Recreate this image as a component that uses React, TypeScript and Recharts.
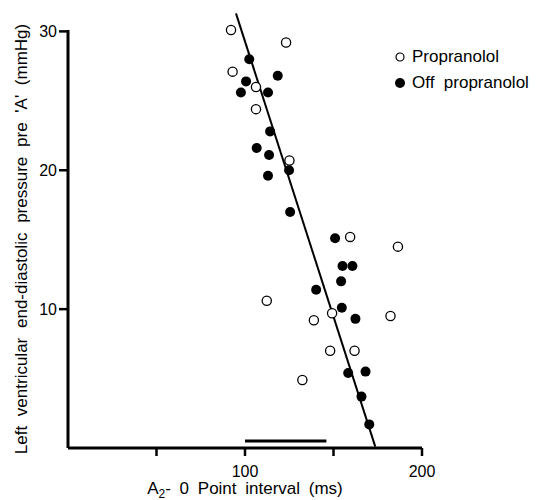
import { ScatterChart, Scatter, XAxis, YAxis, ReferenceLine } from "recharts";

const FONT = '"Liberation Sans", Arial, sans-serif';

// Propranolol (open circles)
const openX = [92.1, 123.2, 93.0, 106.2, 106.2, 125.1, 159.4, 186.4, 149.2, 182.2, 138.9, 148.1, 161.9, 132.4, 112.3];
const openY = [30.1, 29.2, 27.1, 26.0, 24.4, 20.7, 15.2, 14.5, 9.7, 9.5, 9.2, 7.0, 7.0, 4.9, 10.6];

// Off propranolol (filled circles)
const offX = [102.4, 118.5, 100.6, 97.7, 113.0, 114.2, 106.6, 113.6, 124.9, 113.0, 125.5, 150.9, 155.1, 160.7, 154.3, 140.2, 154.7, 162.4, 158.3, 168.1, 165.8, 170.2];
const offY = [28.0, 26.8, 26.4, 25.6, 25.6, 22.8, 21.6, 21.1, 20.0, 19.6, 17.0, 15.1, 13.1, 13.1, 12.0, 11.4, 10.1, 9.3, 5.4, 5.5, 3.7, 1.7];

// regression line end points
const fitX = [94.9, 173.6];
const fitY = [31.3, 0.1];

// horizontal bar near the x axis
const barX = [100, 146];
const barY = [0.5, 0.5];

const xTicks = [50, 100, 150, 200];
const xTickLabels = ["", "100", "", "200"];
const yTicks = [10, 20, 30];

const seriesNames = ["Propranolol", "Off  propranolol"];

const openData = openX.map((x, i) => ({ x, y: openY[i] }));
const offData = offX.map((x, i) => ({ x, y: offY[i] }));

const OpenDot = (p: any) => (
    <circle cx={p.cx} cy={p.cy} r={4.6} fill="#fff" stroke="#000" strokeWidth={1.3} />
);
const FilledDot = (p: any) => <circle cx={p.cx} cy={p.cy} r={5} fill="#000" />;

// legend drawn by hand, top right
const LegendBox = () => (
    <div style={{ position: "absolute", left: 392, top: 44, fontFamily: FONT, fontSize: 17, color: "#000" }}>
        {seriesNames.map((name, i) => (
            <div key={i} style={{ display: "flex", alignItems: "center", height: 26, whiteSpace: "pre" }}>
                <svg width={20} height={12}>
                    {i === 0 ? (
                        <circle cx={8} cy={6} r={4} fill="#fff" stroke="#000" strokeWidth={1.2} />
                    ) : (
                        <circle cx={8} cy={6} r={5} fill="#000" />
                    )}
                </svg>
                <span>{name}</span>
            </div>
        ))}
    </div>
);

const XTitle = ({ viewBox }: any) => {
    const cx = viewBox.x + viewBox.width / 2;
    return (
        <text x={cx} y={494} textAnchor="middle" fontFamily={FONT} fontSize={17} fill="#000" style={{ wordSpacing: 4 }}>
            A<tspan fontSize={12} dy={4}>2</tspan>
            <tspan dy={-4}>- 0 Point interval (ms)</tspan>
        </text>
    );
};

const YTitle = () => (
    <text
        transform="translate(27,239) rotate(-90)"
        textAnchor="middle"
        fontFamily={FONT}
        fontSize={17}
        fill="#000"
        style={{ wordSpacing: 5 }}
    >
        Left ventricular end-diastolic pressure pre 'A' (mmHg)
    </text>
);

export default function App() {
    return (
        <div style={{ position: "absolute", left: 0, top: 0, width: 536, height: 500, background: "#fff" }}>
            <ScatterChart width={536} height={500} margin={{ top: 30, right: 114, bottom: 0, left: 0 }}>
                <XAxis
                    type="number"
                    dataKey="x"
                    domain={[0, 200]}
                    ticks={xTicks}
                    tickFormatter={(v: number) => xTickLabels[xTicks.indexOf(v)] ?? ""}
                    height={52}
                    tickSize={8}
                    tickMargin={10}
                    axisLine={{ stroke: "#000", strokeWidth: 3 }}
                    tickLine={{ stroke: "#000", strokeWidth: 2.5 }}
                    tick={{ fill: "#000", fontSize: 16, fontFamily: FONT }}
                    label={<XTitle />}
                />
                <YAxis
                    type="number"
                    dataKey="y"
                    domain={[0, 30]}
                    ticks={yTicks}
                    width={68}
                    tickSize={9}
                    tickMargin={2}
                    axisLine={{ stroke: "#000", strokeWidth: 3 }}
                    tickLine={{ stroke: "#000", strokeWidth: 2.5 }}
                    tick={{ fill: "#000", fontSize: 16, fontFamily: FONT }}
                    label={<YTitle />}
                />
                <ReferenceLine
                    segment={[{ x: fitX[0], y: fitY[0] }, { x: fitX[1], y: fitY[1] }]}
                    stroke="#000"
                    strokeWidth={2}
                    ifOverflow="visible"
                />
                <ReferenceLine
                    segment={[{ x: barX[0], y: barY[0] }, { x: barX[1], y: barY[1] }]}
                    stroke="#000"
                    strokeWidth={3}
                    ifOverflow="visible"
                />
                <Scatter name={seriesNames[0]} data={openData} shape={OpenDot} isAnimationActive={false} />
                <Scatter name={seriesNames[1]} data={offData} shape={FilledDot} isAnimationActive={false} />
            </ScatterChart>
            <LegendBox />
        </div>
    );
}
